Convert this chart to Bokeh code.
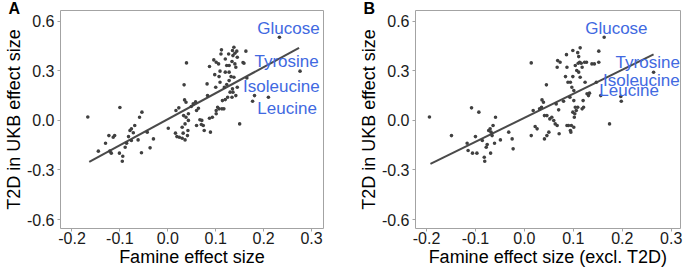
from bokeh.plotting import figure
from bokeh.layouts import row
from bokeh.models import FixedTicker, PrintfTickFormatter, Range1d
from bokeh.core.properties import value
from bokeh.embed import file_html
from bokeh.resources import INLINE

# ---------------- data: panel A ----------------
a_x = [-0.167, -0.145, -0.130, -0.123, -0.121, -0.118, -0.114, -0.111, -0.100, -0.101,
       -0.094, -0.095, -0.089, -0.086, -0.082, -0.079, -0.076, -0.072, -0.076, -0.069,
       -0.059, -0.054, -0.062, -0.055, -0.043, -0.037, -0.030,
       0.001, 0.016, 0.019, 0.017, 0.023, 0.024, 0.030, 0.032, 0.030, 0.034,
       0.039, 0.033, 0.036, 0.038, 0.035, 0.038, 0.043, 0.043, 0.042, 0.041,
       0.036, 0.049, 0.053, 0.058, 0.060, 0.064, 0.067, 0.060, 0.071, 0.074,
       0.076, 0.070, 0.083, 0.087, 0.082, 0.087, 0.089, 0.093, 0.096, 0.098,
       0.101, 0.101, 0.100, 0.101, 0.104, 0.106, 0.107, 0.109, 0.107, 0.113,
       0.114, 0.112, 0.111, 0.109, 0.117, 0.120, 0.120, 0.120, 0.123, 0.123,
       0.127, 0.128, 0.128, 0.130, 0.132, 0.134, 0.135, 0.136, 0.135, 0.136,
       0.138, 0.140, 0.140, 0.138, 0.142, 0.145, 0.142, 0.150, 0.144, 0.134,
       0.125, 0.128, 0.118, 0.145, 0.159, 0.163, 0.157, 0.165, 0.177]
a_y = [0.021, -0.186, -0.138, -0.092, -0.186, -0.198, -0.102, -0.092, 0.078, -0.198,
       -0.217, -0.247, -0.162, -0.138, -0.098, -0.061, -0.051, -0.075, -0.122, -0.031,
       0.019, 0.050, -0.118, -0.196, -0.071, -0.166, -0.112,
       -0.047, -0.077, -0.098, 0.060, 0.076, -0.102, -0.108, -0.077, -0.041, 0.215,
       0.348, 0.029, -0.021, 0.019, 0.124, 0.110, 0.040, 0.000, -0.061, -0.092,
       -0.118, 0.084, 0.100, 0.112, -0.031, 0.074, 0.004, 0.060, 0.000, -0.031,
       -0.061, -0.025, 0.150, 0.013, 0.221, 0.326, -0.071, 0.019, 0.366, 0.277,
       0.060, 0.040, 0.201, 0.352, 0.080, 0.342, 0.265, 0.298, 0.070, 0.070,
       0.120, 0.427, 0.402, 0.231, 0.070, 0.372, 0.126, 0.292, 0.332, 0.217,
       0.402, 0.332, 0.292, 0.171, 0.265, 0.356, 0.423, 0.392, 0.191, 0.171,
       0.443, 0.406, 0.342, 0.261, 0.322, 0.382, 0.150, -0.021, 0.419, 0.140,
       0.140, 0.241, 0.201, 0.201, 0.346, 0.419, 0.350, 0.257, 0.116]

labels = ["Glucose", "Tyrosine", "Isoleucine", "Leucine"]
a_lab_x = [0.233, 0.276, 0.181, 0.210]
a_lab_y = [0.503, 0.298, 0.150, 0.140]
a_txt_x = [0.252, 0.248, 0.237, 0.249]
a_txt_y = [0.554, 0.354, 0.203, 0.075]
a_fit_x = [-0.164, 0.274]
a_fit_y = [-0.251, 0.439]

# ---------------- data: panel B ----------------
b_x = [-0.194, -0.149, -0.117, -0.115, -0.108, -0.106, -0.100, -0.097, -0.093, -0.086,
       -0.082, -0.081, -0.078, -0.076, -0.073, -0.070, -0.068, -0.066, -0.069, -0.064,
       -0.059, -0.061, -0.049, -0.032, -0.025, -0.023,
       0.014, 0.014, 0.018, 0.022, 0.026, 0.031, 0.035, 0.036, 0.039, 0.041,
       0.041, 0.045, 0.046, 0.046, 0.050, 0.052, 0.056, 0.060, 0.063, 0.065,
       0.067, 0.070, 0.067, 0.068, 0.071, 0.073, 0.080, 0.084, 0.086, 0.087,
       0.089, 0.090, 0.093, 0.094, 0.095, 0.096, 0.097, 0.099, 0.099, 0.101,
       0.102, 0.103, 0.104, 0.101, 0.106, 0.104, 0.107, 0.109, 0.110, 0.111,
       0.111, 0.113, 0.114, 0.114, 0.116, 0.118, 0.120, 0.121, 0.123, 0.124,
       0.127, 0.128, 0.131, 0.133, 0.138, 0.143, 0.152, 0.152, 0.147, 0.174,
       0.198, 0.099, 0.109, 0.094, 0.101, 0.087, 0.118]
b_y = [0.021, -0.092, -0.138, -0.182, 0.076, -0.198, -0.098, -0.198, 0.050, -0.122,
       -0.223, -0.247, -0.162, -0.146, -0.061, -0.051, -0.071, -0.092, -0.198, -0.031,
       0.019, -0.138, -0.118, -0.071, -0.112, -0.172,
       0.348, -0.092, 0.060, -0.037, -0.051, 0.070, 0.080, 0.124, 0.110, 0.029,
       -0.112, 0.215, -0.092, 0.029, -0.071, 0.009, 0.019, -0.001, -0.021, 0.100,
       -0.031, 0.064, 0.322, 0.362, -0.081, 0.352, 0.116, 0.265, 0.398, -0.031,
       0.231, -0.031, 0.140, -0.061, -0.071, -0.031, 0.201, 0.423, 0.265, -0.041,
       0.019, 0.040, 0.080, 0.120, 0.060, 0.332, 0.302, 0.410, 0.346, 0.386,
       0.292, 0.352, 0.261, 0.439, 0.346, 0.070, 0.120, 0.080, 0.352, 0.231,
       0.352, 0.161, 0.150, 0.165, 0.342, 0.342, 0.419, 0.352, 0.231, -0.021,
       0.116, 0.050, 0.080, 0.231, 0.181, 0.322, 0.322]

b_lab_x = [0.163, 0.264, 0.197, 0.156]
b_lab_y = [0.503, 0.291, 0.145, 0.150]
b_txt_x = [0.188, 0.252, 0.239, 0.214]
b_txt_y = [0.554, 0.352, 0.241, 0.181]
b_fit_x = [-0.192, 0.264]
b_fit_y = [-0.263, 0.399]

x_ticks = [-0.2, -0.1, 0.0, 0.1, 0.2, 0.3]
y_ticks = [-0.6, -0.3, 0.0, 0.3, 0.6]

FONT = "Liberation Sans"
PT_COLOR = "#404040"
LINE_COLOR = "#4a4a4a"
LAB_COLOR = "#4169E1"
FRAME_COLOR = "#a3a3a3"


def panel(xs, ys, fx, fy, lx, ly, tx, ty, xlabel, letter, width, bl, br, xr):
    p = figure(width=width, height=269, x_range=Range1d(*xr),
               y_range=Range1d(-0.654, 0.665), output_backend="svg",
               toolbar_location=None, min_border_left=bl, min_border_right=br,
               min_border_top=10, min_border_bottom=41, title=letter)
    p.title.align = "left"
    p.title.offset = -52
    p.title.standoff = -14
    p.title.vertical_align = "middle"
    p.title.text_font = FONT
    p.title.text_font_size = "16px"
    p.title.text_font_style = "bold"
    p.title.text_color = "black"

    p.xgrid.visible = False
    p.ygrid.visible = False
    p.outline_line_color = FRAME_COLOR
    p.outline_line_width = 1
    p.background_fill_color = "white"
    p.border_fill_color = "white"

    p.line(fx, fy, line_color=LINE_COLOR, line_width=2)
    p.scatter(xs, ys, size=3.6, fill_color=PT_COLOR, line_color=None)
    p.scatter(lx, ly, size=3.6, fill_color=PT_COLOR, line_color=None)
    p.text(x=tx, y=ty, text=labels, text_font=value(FONT),
           text_font_size=value("17px"), text_color=LAB_COLOR,
           text_align="center", text_baseline="middle")

    for ax in (p.xaxis[0], p.yaxis[0]):
        ax.axis_line_color = None
        ax.major_tick_line_color = FRAME_COLOR
        ax.major_tick_out = 3
        ax.major_tick_in = 0
        ax.minor_tick_line_color = None
        ax.major_label_text_font = FONT
        ax.major_label_text_font_size = "16px"
        ax.major_label_text_color = "#1a1a1a"
        ax.axis_label_text_font = FONT
        ax.axis_label_text_font_size = "18px"
        ax.axis_label_text_font_style = "normal"
        ax.axis_label_text_color = "#000000"
        ax.formatter = PrintfTickFormatter(format="%.1f")
    p.xaxis.ticker = FixedTicker(ticks=x_ticks)
    p.yaxis.ticker = FixedTicker(ticks=y_ticks)
    p.xaxis.axis_label = xlabel
    p.yaxis.axis_label = "T2D in UKB effect size"
    p.xaxis.major_label_standoff = 0
    p.yaxis.major_label_standoff = 3
    p.xaxis.axis_label_standoff = 0
    p.yaxis.axis_label_standoff = 0
    return p


pa = panel(a_x, a_y, a_fit_x, a_fit_y, a_lab_x, a_lab_y, a_txt_x, a_txt_y,
           "Famine effect size", "A", 340, 54, 17, (-0.224, 0.325))
pb = panel(b_x, b_y, b_fit_x, b_fit_y, b_lab_x, b_lab_y, b_txt_x, b_txt_y,
           "Famine effect size (excl. T2D)", "B", 345, 75, 5, (-0.2225, 0.319))

layout = row(pa, pb, spacing=0)
open("out.html", "w").write(file_html(layout, INLINE))
